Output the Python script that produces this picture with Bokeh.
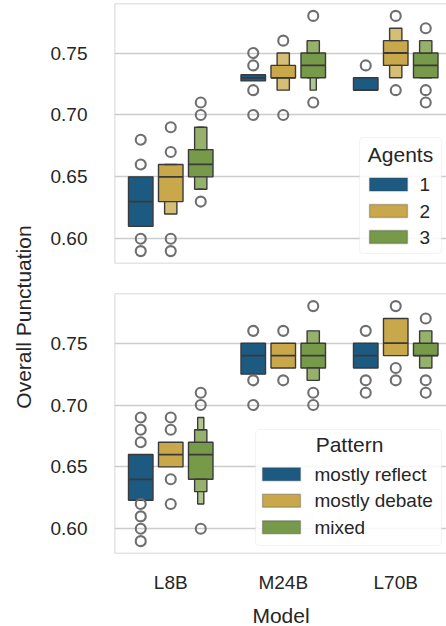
from bokeh.plotting import figure
from bokeh.models import (ColumnDataSource, Range1d, FixedTicker, PrintfTickFormatter,
                          Span, BoxAnnotation, Label, Div)
from bokeh.layouts import row, column
from bokeh.embed import file_html
from bokeh.resources import INLINE

FONT = "Liberation Sans"
TEXT = "#262626"
GRID = "#cccccc"
EDGE = "#3a3a3a"
FLIER = "#6f6f6f"

# ---------------- data ----------------
models = ["L8B", "M24B", "L70B"]
agent_names = ["1", "2", "3"]
pattern_names = ["mostly reflect", "mostly debate", "mixed"]
y_ticks = [0.60, 0.65, 0.70, 0.75]

# box order: (model, hue) for the 9 boxes of each panel
box_model = [0, 0, 0, 1, 1, 1, 2, 2, 2]
box_hue = [0, 1, 2, 0, 1, 2, 0, 1, 2]

# Agents panel (letter values: level 1 = IQR box, level 2/3 = outer boxes)
agents_l1_lo = [0.61, 0.63, 0.65, 0.7275, 0.73, 0.73, 0.72, 0.74, 0.73]
agents_l1_hi = [0.65, 0.66, 0.672, 0.7325, 0.74, 0.75, 0.73, 0.76, 0.75]
agents_l2_lo = [None, 0.62, 0.64, None, 0.72, 0.73, None, 0.73, 0.73]
agents_l2_hi = [None, 0.66, 0.69, None, 0.75, 0.76, None, 0.77, 0.76]
agents_l3_lo = [None, None, 0.64, None, None, 0.72, None, None, None]
agents_l3_hi = [None, None, 0.69, None, None, 0.76, None, None, None]
agents_median = [0.63, 0.65, 0.66, 0.73, 0.73, 0.74, 0.72, 0.75, 0.74]
agents_outliers = [[0.68, 0.66, 0.60, 0.59], [0.69, 0.67, 0.60, 0.59], [0.71, 0.70, 0.63],
                   [0.75, 0.74, 0.72, 0.70], [0.76, 0.70], [0.78, 0.71],
                   [0.74], [0.78, 0.72], [0.77, 0.72, 0.71]]

# Pattern panel
pattern_l1_lo = [0.623, 0.65, 0.64, 0.725, 0.73, 0.73, 0.73, 0.74, 0.74]
pattern_l1_hi = [0.66, 0.67, 0.67, 0.75, 0.75, 0.75, 0.75, 0.77, 0.75]
pattern_l2_lo = [None, None, 0.63, None, None, 0.72, None, None, 0.73]
pattern_l2_hi = [None, None, 0.68, None, None, 0.76, None, None, 0.76]
pattern_l3_lo = [None, None, 0.62, None, None, None, None, None, None]
pattern_l3_hi = [None, None, 0.69, None, None, None, None, None, None]
pattern_median = [0.64, 0.66, 0.66, 0.74, 0.74, 0.74, 0.74, 0.75, 0.74]
pattern_outliers = [[0.69, 0.68, 0.67, 0.62, 0.61, 0.60, 0.59], [0.69, 0.68, 0.64, 0.62], [0.71, 0.70, 0.60],
                    [0.76, 0.72, 0.70], [0.76, 0.72], [0.78, 0.71, 0.70],
                    [0.76, 0.72, 0.71], [0.78, 0.73, 0.72], [0.77, 0.72, 0.71]]

# colours per hue, per level (inner -> outer)
hue_colors = [
    ["#1d5a82", "#5e88a6", "#93b2c7"],
    ["#c8a84b", "#d6bf74", "#e2d29c"],
    ["#76994a", "#95b16c", "#b1c78f"],
]

HUE_STEP = 0.8 / 3
BOX_W = 0.218
X_END = 2.469


def build_panel(l1_lo, l1_hi, l2_lo, l2_hi, l3_lo, l3_hi, med, outs,
                y_end, height, b_top, b_bottom, show_x):
    p = figure(width=414, height=height,
               x_range=Range1d(-0.5, X_END), y_range=Range1d(0.58, y_end),
               output_backend="svg", toolbar_location=None,
               min_border_left=80, min_border_right=0,
               min_border_top=b_top, min_border_bottom=b_bottom)
    p.outline_line_color = None
    p.background_fill_color = "white"
    p.border_fill_color = "white"
    p.xgrid.visible = False
    p.ygrid.ticker = FixedTicker(ticks=y_ticks)
    p.ygrid.grid_line_color = GRID
    p.ygrid.grid_line_width = 1.3

    ya = p.yaxis[0]
    ya.ticker = FixedTicker(ticks=y_ticks)
    ya.formatter = PrintfTickFormatter(format="%.2f")
    ya.axis_line_color = None
    ya.major_tick_line_color = None
    ya.minor_tick_line_color = None
    ya.major_label_standoff = 21
    ya.major_label_text_font = FONT
    ya.major_label_text_font_size = "19px"
    ya.major_label_text_color = TEXT

    xa = p.xaxis[0]
    if show_x:
        xa.ticker = FixedTicker(ticks=[0, 1, 2])
        xa.major_label_overrides = {i: m for i, m in enumerate(models)}
        xa.axis_line_color = None
        xa.major_tick_line_color = None
        xa.minor_tick_line_color = None
        xa.major_label_standoff = 12
        xa.major_label_text_font = FONT
        xa.major_label_text_font_size = "19px"
        xa.major_label_text_color = TEXT
    else:
        xa.visible = False

    # frame borders (left, top, bottom)
    for loc, dim in [(-0.5, "height"), (0.58, "width"), (y_end, "width")]:
        p.add_layout(Span(location=loc, dimension=dim, line_color=GRID, line_width=1.6))

    levels = [(l1_lo, l1_hi), (l2_lo, l2_hi), (l3_lo, l3_hi)]
    per_level = [dict(x=[], bottom=[], top=[], width=[], color=[]) for _ in range(3)]
    seg = dict(x0=[], x1=[], y=[])
    fl = dict(x=[], y=[])
    for i in range(len(box_model)):
        h = box_hue[i]
        xc = box_model[i] + (h - 1) * HUE_STEP
        d = per_level[0]
        d["x"].append(xc); d["bottom"].append(l1_lo[i]); d["top"].append(l1_hi[i])
        d["width"].append(BOX_W); d["color"].append(hue_colors[h][0])
        for k in (1, 2):
            lo_k, hi_k = levels[k][0][i], levels[k][1][i]
            if lo_k is None:
                continue
            lo_p, hi_p = levels[k - 1][0][i], levels[k - 1][1][i]
            d = per_level[k]
            for b, t in [(lo_k, lo_p), (hi_p, hi_k)]:
                d["x"].append(xc); d["bottom"].append(b); d["top"].append(t)
                d["width"].append(BOX_W / 2 ** k); d["color"].append(hue_colors[h][k])
        seg["x0"].append(xc - BOX_W / 2); seg["x1"].append(xc + BOX_W / 2); seg["y"].append(med[i])
        for v in outs[i]:
            fl["x"].append(xc); fl["y"].append(v)

    for d in per_level:
        p.vbar(x="x", bottom="bottom", top="top", width="width", source=ColumnDataSource(d),
               fill_color="color", line_color=EDGE, line_width=1.4)
    p.segment(x0="x0", x1="x1", y0="y", y1="y", source=ColumnDataSource(seg),
              line_color=EDGE, line_width=1.8)
    p.scatter(x="x", y="y", source=ColumnDataSource(fl), marker="circle", size=10,
              fill_color=None, line_color=FLIER, line_width=2.1)
    return p


def add_legend(p, box, title, title_xy, names, patch_x, row_y, label_x):
    p.add_layout(BoxAnnotation(left=box[0], right=box[1], bottom=box[2], top=box[3],
                               left_units="screen", right_units="screen",
                               bottom_units="screen", top_units="screen",
                               fill_color="white", fill_alpha=0.85,
                               line_color="#d6d6d6", line_width=1.2, border_radius=4))
    p.add_layout(Label(x=title_xy[0], y=title_xy[1], x_units="screen", y_units="screen",
                       text=title, text_font=FONT, text_font_size="21px", text_color=TEXT,
                       text_align="center", text_baseline="middle"))
    for j, name in enumerate(names):
        yc = row_y[j]
        p.add_layout(BoxAnnotation(left=patch_x[0], right=patch_x[1], bottom=yc - 6.5, top=yc + 6.5,
                                   left_units="screen", right_units="screen",
                                   bottom_units="screen", top_units="screen",
                                   fill_color=hue_colors[j][0], fill_alpha=1.0,
                                   line_color=EDGE, line_width=1.4))
        p.add_layout(Label(x=label_x, y=yc, x_units="screen", y_units="screen",
                           text=name, text_font=FONT, text_font_size="19px", text_color=TEXT,
                           text_align="left", text_baseline="middle"))


p1 = build_panel(agents_l1_lo, agents_l1_hi, agents_l2_lo, agents_l2_hi, agents_l3_lo, agents_l3_hi,
                 agents_median, agents_outliers, y_end=0.79, height=278, b_top=3, b_bottom=15,
                 show_x=False)
add_legend(p1, (245, 327, 10, 126), "Agents", (286, 109), agent_names, (255, 293), [79, 52.5, 26.5], 305)

p2 = build_panel(pattern_l1_lo, pattern_l1_hi, pattern_l2_lo, pattern_l2_hi, pattern_l3_lo, pattern_l3_hi,
                 pattern_median, pattern_outliers, y_end=0.7902, height=323, b_top=15, b_bottom=48,
                 show_x=True)
add_legend(p2, (141, 327, 8, 124), "Pattern", (235, 109), pattern_names, (148, 186), [79.3, 52.8, 26.3], 200)

TXT_STYLE = ("position:absolute;white-space:nowrap;line-height:1;"
             "font-family:'Liberation Sans';font-size:21px;color:#262626;")

ylab = Div(width=24, height=624, text=(
    '<div style="position:relative;width:24px;height:624px;">'
    '<div style="left:18px;top:312px;' + TXT_STYLE +
    'transform:translate(-50%,-50%) rotate(-90deg);">Overall Punctuation</div></div>'))

xlab = Div(width=414, height=23, text=(
    '<div style="position:relative;width:414px;height:23px;">'
    '<div style="left:242px;top:9px;' + TXT_STYLE +
    'transform:translate(-50%,-50%);">Model</div></div>'))

layout = row(ylab, column(p1, p2, xlab))
open("out.html", "w").write(file_html(layout, INLINE))
